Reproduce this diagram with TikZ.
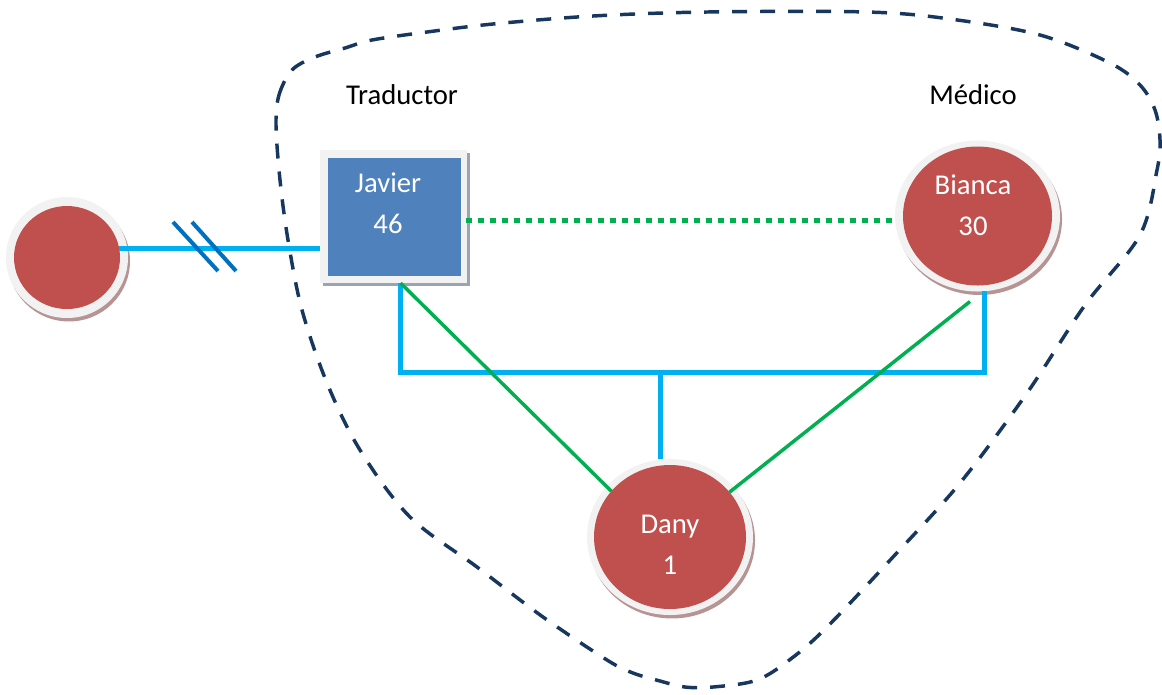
\documentclass[tikz,border=0pt]{standalone}
\usepackage{fontspec}
\setmainfont{Carlito}
\usetikzlibrary{shapes.geometric,shadows,calc}

\definecolor{nodered}{HTML}{C0504D}
\definecolor{nodeblue}{HTML}{4F81BD}
\definecolor{ringgrey}{HTML}{F2F2F2}
\definecolor{shadowrose}{HTML}{B89393}
\definecolor{shadowslate}{HTML}{9AA4B4}
\definecolor{linkcyan}{HTML}{00B0F0}
\definecolor{linkgreen}{HTML}{00B050}
\definecolor{slashblue}{HTML}{0070C0}
\definecolor{boundnavy}{HTML}{17375E}

\begin{document}
\begin{tikzpicture}[
  x={(0.75pt,0)}, y={(0,-0.75pt)},
  ringbg/.style={ellipse, fill=ringgrey, inner sep=0, outer sep=0,
    drop shadow={shadow xshift=1.5pt, shadow yshift=-2.6pt, fill=shadowrose, opacity=1}},
  reddisc/.style={ellipse, fill=nodered, inner sep=0, outer sep=0},
  framebg/.style={rectangle, fill=ringgrey, inner sep=0, outer sep=0,
    drop shadow={shadow xshift=2.4pt, shadow yshift=-2.4pt, fill=shadowslate, opacity=1}},
  bluebox/.style={rectangle, fill=nodeblue, inner sep=0, outer sep=0},
  inlabel/.style={font=\fontsize{21.5}{26}\selectfont, text=white, inner sep=0, anchor=base},
  toplabel/.style={font=\fontsize{21.5}{26}\selectfont, text=black, inner sep=0, anchor=base},
  cyanlink/.style={draw=linkcyan, line width=3.75pt},
  greenlink/.style={draw=linkgreen, line width=2.6pt},
  greendots/.style={draw=linkgreen, line width=3.75pt, dash pattern=on 4.5pt off 4.5pt},
  slash/.style={draw=slashblue, line width=3pt},
  boundary/.style={draw=boundnavy, line width=2.6pt, dash pattern=on 11.25pt off 9.75pt}
]
\useasboundingbox (0,0) rectangle (1162,694);

% group boundary
\draw[boundary] plot[smooth cycle, tension=0.55] coordinates {
  (276,125) (279,95) (292,70) (315,57) (345,48) (372,40) (427,32) (493,24)
  (593,16) (707,12) (867,12) (950,19) (1040,35) (1110,63) (1140,85)
  (1155,110) (1160,140) (1157,170) (1140,235) (1085,305) (1027,393)
  (960,483) (893,557) (827,627) (792,658) (757,680) (713,687) (685,687)
  (660,681) (633,673) (607,660) (543,617) (477,567) (410,517) (360,450)
  (327,383) (302,310) (288,240) (280,180)};

% outside person
\node[ringbg, minimum width=91.5pt, minimum height=90.75pt] (Lring) at (67,257.5) {};
\node[reddisc, minimum width=79.5pt, minimum height=77.25pt] (L) at (67,257.5) {};

% Javier
\node[framebg, minimum width=110.25pt, minimum height=99.75pt] (Jf) at (393.5,216.5) {};
\node[bluebox, minimum width=99.75pt, minimum height=88.5pt] (J) at (394.5,217) {};

% Bianca
\node[ringbg, minimum width=123.75pt, minimum height=113.25pt] (Bring) at (977.5,216) {};
\node[reddisc, minimum width=111.75pt, minimum height=104.25pt] (B) at (977.5,216) {};

% Dany
\node[ringbg, minimum width=124.5pt, minimum height=117pt] (Dring) at (670,537) {};
\node[reddisc, minimum width=114pt, minimum height=108pt] (D) at (670,537) {};

% links
\draw[cyanlink] (L.10) -- (Jf.west |- L.10);
\draw[slash] (173,222) -- (218,271);
\draw[slash] (192,222) -- (236,271);

\coordinate (bar) at (660,372);
\draw[cyanlink, line join=miter] ($(Jf.south)+(7,0)$) |- (bar) -| ($(Bring.south)+(6.5,-1)$);
\draw[cyanlink] (bar) -- (bar |- Dring.north);

\draw[greenlink] ($(Jf.south)+(7,0)$) -- (D.142);
\draw[greenlink] ($(Bring.south)+(-7.5,10)$) -- (D.37);
\draw[greendots] ($(Jf.east)+(-1,3.5)$) -- ($(Bring.west)+(3,4)$);

% labels
\node[toplabel] (tTrad) at (402,104) {Traductor};
\node[toplabel] (tMed) at (973,104) {Médico};
\node[inlabel] (tJ1) at (388,192) {Javier};
\node[inlabel] (tJ2) at (388,233) {46};
\node[inlabel] (tB1) at (973,194) {Bianca};
\node[inlabel] (tB2) at (973,235) {30};
\node[inlabel] (tD1) at (670,533) {Dany};
\node[inlabel] (tD2) at (670,574) {1};
\end{tikzpicture}
\end{document}
